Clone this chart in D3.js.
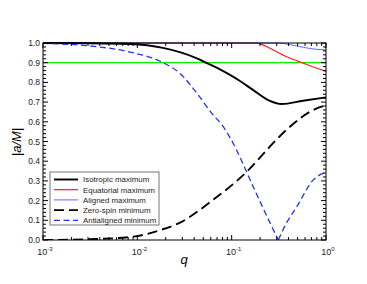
<!DOCTYPE html>
<html>
<head>
<meta charset="utf-8">
<script src="https://cdn.jsdelivr.net/npm/d3@7"></script>
<style>
  body { margin: 0; background: #fff; }
  svg { display: block; font-family: "Liberation Sans", Arial, sans-serif; }
</style>
</head>
<body>
<svg id="chart" width="367" height="284"></svg>
<script>
// values: [q, |a/M|]
var isoMax = [[0.001,1.0],[0.00315,0.999],[0.00835,0.995],[0.0187,0.975],[0.0428,0.922],[0.052,0.903],
  [0.0751,0.866],[0.096,0.838],[0.1225,0.807],[0.168,0.762],[0.254,0.706],[0.34,0.69],[0.57,0.707],[1.0,0.724]];
var eqMax = [[0.001,1.0],[0.168,1.0],[0.208,0.993],[0.255,0.973],[0.383,0.93],[0.575,0.897],[1.0,0.856]];
var alMax = [[0.001,1.0],[0.3,1.0],[0.415,0.992],[0.575,0.978],[0.82,0.967],[1.0,0.965]];
var zeroMin = [[0.001,0.0],[0.00315,0.004],[0.0091,0.017],[0.0174,0.05],[0.0283,0.088],[0.063,0.203],
  [0.145,0.347],[0.236,0.457],[0.273,0.49],[0.415,0.575],[0.734,0.66],[1.0,0.684]];
var antiMin = [[0.001,0.998],[0.00315,0.985],[0.00835,0.954],[0.0188,0.9],[0.0283,0.846],[0.0428,0.745],
  [0.0635,0.635],[0.0788,0.585],[0.096,0.52],[0.177,0.25],[0.225,0.142],[0.312,0.0],[0.385,0.09],
  [0.49,0.169],[0.734,0.305],[1.0,0.344]];
var kerrLimit = 0.9;

var legendNames = ["Isotropic maximum","Equatorial maximum","Aligned maximum","Zero-spin minimum","Antialigned minimum"];
var yTicks = [0,0.1,0.2,0.3,0.4,0.5,0.6,0.7,0.8,0.9,1.0];
var xTicks = [0.001,0.01,0.1,1];
var xTickExp = ["-3","-2","-1","0"];

var svg = d3.select("#chart");
var pL = 43, pR = 326, pT = 43, pB = 240;

var x = d3.scaleLog().domain([0.001,1]).range([pL,pR]);
var y = d3.scaleLinear().domain([0,1]).range([pB,pT]);

svg.append("clipPath").attr("id","clip")
  .append("rect").attr("x",pL).attr("y",pT-1).attr("width",pR-pL).attr("height",pB-pT+1);

var plot = svg.append("g").attr("clip-path","url(#clip)");

var line = d3.line().x(d=>x(d[0])).y(d=>y(d[1])).curve(d3.curveMonotoneX);

// horizontal 0.9 line
plot.append("line")
  .attr("x1",pL).attr("x2",pR).attr("y1",y(kerrLimit)).attr("y2",y(kerrLimit))
  .attr("stroke","#00f000").attr("stroke-width",1.3);

var styles = [
  {data: isoMax, color:"#000", width:1.9, dash:null},
  {data: eqMax, color:"#ff1a1a", width:1.2, dash:null},
  {data: alMax, color:"#3344ff", width:0.8, dash:null},
  {data: zeroMin, color:"#000", width:1.9, dash:"10,5"},
  {data: antiMin, color:"#2233ee", width:1.3, dash:"6,3.5"}
];

// antialigned has a sharp V at its minimum: draw the two branches separately
var iMin = d3.minIndex(antiMin, d=>d[1]);
function drawSeries(s, d) {
  plot.append("path").attr("d",line(d))
    .attr("fill","none").attr("stroke",s.color).attr("stroke-width",s.width)
    .attr("stroke-dasharray",s.dash);
}
drawSeries(styles[1], eqMax);
drawSeries(styles[2], alMax);
drawSeries(styles[0], isoMax);
drawSeries(styles[3], zeroMin);
drawSeries(styles[4], antiMin.slice(0,iMin+1));
drawSeries(styles[4], antiMin.slice(iMin));

// frame
svg.append("rect").attr("x",pL).attr("y",pT).attr("width",pR-pL).attr("height",pB-pT)
  .attr("fill","none").attr("stroke","#000").attr("stroke-width",1);

// y ticks, both sides, inward
var yMinor = d3.range(0,1.0001,0.02);
var ax = svg.append("g").attr("stroke","#000").attr("stroke-width",1);
yMinor.forEach(function(v){
  var major = Math.abs(v*10-Math.round(v*10))<1e-6;
  var len = major ? 5 : 3;
  ax.append("line").attr("x1",pL).attr("x2",pL+len).attr("y1",y(v)).attr("y2",y(v));
  ax.append("line").attr("x1",pR).attr("x2",pR-len).attr("y1",y(v)).attr("y2",y(v));
});
// x ticks, both sides, inward
var xMinor = [];
[0.001,0.01,0.1].forEach(function(d){ for (var k=2;k<=9;k++) xMinor.push(d*k); });
xMinor.forEach(function(v){
  ax.append("line").attr("x1",x(v)).attr("x2",x(v)).attr("y1",pB).attr("y2",pB-3);
  ax.append("line").attr("x1",x(v)).attr("x2",x(v)).attr("y1",pT).attr("y2",pT+3);
});
xTicks.forEach(function(v){
  ax.append("line").attr("x1",x(v)).attr("x2",x(v)).attr("y1",pB).attr("y2",pB-5);
  ax.append("line").attr("x1",x(v)).attr("x2",x(v)).attr("y1",pT).attr("y2",pT+5);
});

// tick labels
svg.append("g").selectAll("text").data(yTicks).enter().append("text")
  .attr("x",40).attr("y",d=>y(d)+3).attr("text-anchor","end")
  .attr("font-size",8.5).attr("fill","#222").text(d=>d.toFixed(1));

var xl = svg.append("g").selectAll("text").data(xTicks).enter().append("text")
  .attr("x",(d,i)=>x(d)+2).attr("y",255).attr("text-anchor","middle")
  .attr("font-size",9).attr("fill","#222");
xl.append("tspan").text("10");
xl.append("tspan").attr("dy",-4).attr("font-size",6).text((d,i)=>xTickExp[i]);

// axis titles
svg.append("text").attr("x",184).attr("y",264).attr("text-anchor","middle")
  .attr("font-size",13).attr("font-style","italic").text("q");
svg.append("text").attr("transform","translate(21,142) rotate(-90)").attr("text-anchor","middle")
  .attr("font-size",13).attr("font-style","italic").text("|a/M|");

// legend
var lg = svg.append("g");
lg.append("rect").attr("x",50).attr("y",172).attr("width",109).attr("height",53)
  .attr("fill","#fff").attr("stroke","#777").attr("stroke-width",1);
legendNames.forEach(function(name,i){
  var yy = 179.5 + i*10.2;
  var s = styles[i];
  lg.append("line").attr("x1",54).attr("x2",78).attr("y1",yy).attr("y2",yy)
    .attr("stroke",s.color).attr("stroke-width",s.width).attr("stroke-dasharray",s.dash);
  lg.append("text").attr("x",83).attr("y",yy+2.8).attr("font-size",7.9).attr("fill","#222").text(name);
});
</script>
</body>
</html>
